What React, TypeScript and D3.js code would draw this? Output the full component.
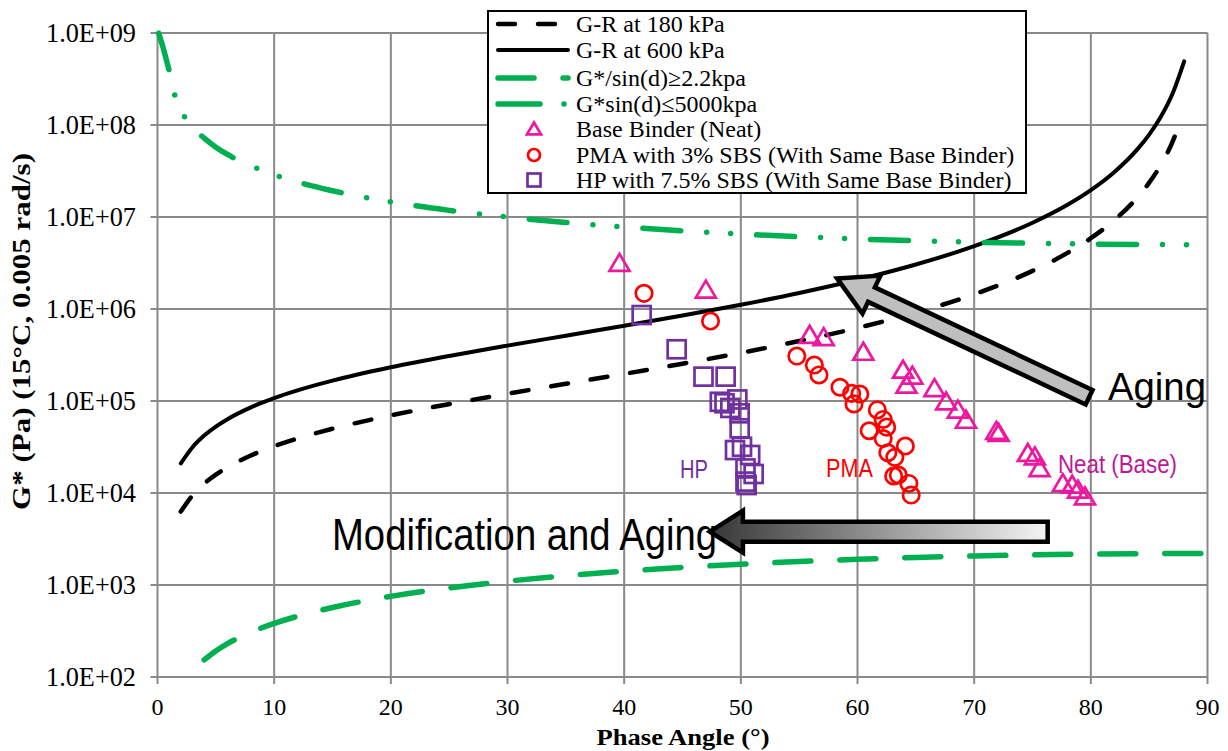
import React from 'react';
import * as d3 from 'd3';

const WIDTH = 1228;
const HEIGHT = 751;

// Axis ticks
const xTicks = [0, 10, 20, 30, 40, 50, 60, 70, 80, 90];
const yTicks = [1e2, 1e3, 1e4, 1e5, 1e6, 1e7, 1e8, 1e9];
const yTickLabels = ['1.0E+02', '1.0E+03', '1.0E+04', '1.0E+05', '1.0E+06', '1.0E+07', '1.0E+08', '1.0E+09'];

// Glover-Rowe limit at 600 kPa (phase angle in degrees, G* in Pa)
const gr600Angle = [2, 3, 4, 5, 6, 8, 10, 12, 15, 20, 25, 30, 35, 40, 45, 50, 55, 60, 65, 70, 75, 78, 80, 82, 84, 85, 86, 87, 88];
const gr600G = [20970, 31490, 42060, 52690, 63410, 85150, 107400, 130400, 166400, 232400, 308700, 400000, 512900, 657200, 848500, 1112000, 1494000, 2078000, 3045000, 4820000, 8652000, 13580000, 19600000, 30680000, 54610000, 78690000, 123000000, 218800000, 492300000];

// Glover-Rowe limit at 180 kPa
const gr180Angle = [2, 3, 4, 5, 6, 8, 10, 12, 15, 20, 25, 30, 35, 40, 45, 50, 55, 60, 65, 70, 75, 78, 80, 82, 84, 85, 86, 87, 87.7];
const gr180G = [6290, 9450, 12620, 15810, 19020, 25550, 32230, 39120, 49930, 69720, 92610, 120000, 153900, 197200, 254600, 333700, 448200, 623500, 913400, 1446000, 2596000, 4073000, 5879000, 9203000, 16380000, 23610000, 36900000, 65630000, 112000000];

// Superpave limits
const sinMinAngle = [4, 5, 6, 8, 10, 12, 15, 20, 25, 30, 35, 40, 45, 50, 55, 60, 65, 70, 75, 80, 85, 90];
const sinMinG = [153.5, 191.7, 230, 306.2, 382, 457.4, 569.4, 752.4, 929.8, 1100, 1262, 1414, 1556, 1685, 1802, 1905, 1994, 2067, 2125, 2167, 2192, 2200];

const sinMaxAngle = [0.1, 0.5, 1, 1.5, 2, 2.5, 3, 4, 5, 6, 8, 10, 12, 15, 20, 25, 30, 35, 40, 45, 50, 55, 60, 65, 70, 75, 80, 85, 90];
const sinMaxG = [1.0e9, 6.8e8, 3.9e8, 2.07e8, 1.45e8, 1.13e8, 9.4e7, 7.2e7, 5.74e7, 4.78e7, 3.59e7, 2.88e7, 2.40e7, 1.93e7, 1.46e7, 1.18e7, 1.0e7, 8.72e6, 7.78e6, 7.07e6, 6.53e6, 6.10e6, 5.77e6, 5.52e6, 5.32e6, 5.18e6, 5.08e6, 5.02e6, 5.0e6];

// Measured binders
const neatAngle = [39.6, 47.0, 55.9, 57.1, 60.5, 63.9, 64.7, 64.2, 66.6, 67.6, 68.6, 69.3, 72.1, 71.9, 74.6, 75.2, 75.6, 77.6, 78.4, 78.9, 79.5];
const neatG = [3.14e6, 1.61e6, 5.2e5, 4.9e5, 3.4e5, 2.17e5, 1.87e5, 1.49e5, 1.37e5, 9.8e4, 8.0e4, 6.2e4, 4.45e4, 4.7e4, 2.7e4, 2.48e4, 1.85e4, 1.27e4, 1.22e4, 1.08e4, 9.1e3];

const pmaAngle = [41.7, 47.4, 54.8, 56.3, 56.7, 58.5, 59.5, 60.2, 59.7, 61.7, 62.2, 62.5, 61.0, 62.2, 64.1, 62.6, 63.2, 63.1, 63.5, 64.4, 64.6];
const pmaG = [1.48e6, 7.4e5, 3.08e5, 2.46e5, 1.92e5, 1.41e5, 1.21e5, 1.19e5, 9.3e4, 8.0e4, 6.3e4, 5.2e4, 4.75e4, 3.9e4, 3.24e4, 2.74e4, 2.44e4, 1.53e4, 1.57e4, 1.27e4, 9.5e3];

const hpAngle = [41.5, 44.5, 46.8, 48.7, 48.2, 48.6, 49.7, 49.1, 49.9, 49.9, 49.5, 50.1, 50.8, 50.4, 51.1, 50.4, 50.5];
const hpG = [8.6e5, 3.65e5, 1.84e5, 1.84e5, 9.8e4, 9.45e4, 1.04e5, 8.4e4, 7.35e4, 5.05e4, 2.93e4, 3.18e4, 2.59e4, 1.85e4, 1.61e4, 1.33e4, 1.22e4];

const legendLabels = [
  'G-R at 180 kPa',
  'G-R at 600 kPa',
  'G*/sin(d)\u22652.2kpa',
  'G*sin(d)\u22645000kpa',
  'Base Binder (Neat)',
  'PMA with 3% SBS (With Same Base Binder)',
  'HP with 7.5% SBS (With Same Base Binder)',
];

const GRID = '#898989';
const GREEN = '#00b050';
const NEAT = '#ee17a0';
const PMA = '#ff0000';
const HP = '#7030a0';
const SERIF = '"Liberation Serif", "Times New Roman", serif';
const SANS = '"Liberation Sans", Arial, sans-serif';

const DASH_GR180 = '17 23';
const DASH_SINMIN = '36 29';
const DASH_SINMAX = '38 26 0 24 0 26';

function trianglePath(cx: number, cy: number, r: number) {
  const h = r * 1.7;
  return `M${cx},${cy - h * 0.55} L${cx + r},${cy + h * 0.45} L${cx - r},${cy + h * 0.45} Z`;
}

export default function App() {
  const x = d3.scaleLinear().domain([0, 90]).range([157.5, 1207.5]);
  const y = d3.scaleLog().domain([1e2, 1e9]).range([677, 33]);

  const curve = (xs: number[], ys: number[]) =>
    d3
      .line<number>()
      .x((d) => x(d))
      .y((_, i) => y(ys[i]))
      .curve(d3.curveMonotoneX)(xs) || '';

  const [x0, x1] = x.range();
  const [yb, yt] = y.range();

  // Aging arrow (tail -> tip), in data coordinates
  const agingTail: [number, number] = [79.85, 1.1e5];
  const agingTip: [number, number] = [58.25, 2.15e6];
  const tailP = [x(agingTail[0]), y(agingTail[1])];
  const tipP = [x(agingTip[0]), y(agingTip[1])];
  const dx = tipP[0] - tailP[0];
  const dy = tipP[1] - tailP[1];
  const len = Math.hypot(dx, dy);
  const ux = dx / len;
  const uy = dy / len;
  const nx = -uy;
  const ny = ux;
  const headLen = 38;
  const headW = 21;
  const shaftW = 8;
  const hb = [tipP[0] - ux * headLen, tipP[1] - uy * headLen];
  const agingPts = [
    tipP,
    [hb[0] + nx * headW, hb[1] + ny * headW],
    [hb[0] + nx * shaftW, hb[1] + ny * shaftW],
    [tailP[0] + nx * shaftW, tailP[1] + ny * shaftW],
    [tailP[0] - nx * shaftW, tailP[1] - ny * shaftW],
    [hb[0] - nx * shaftW, hb[1] - ny * shaftW],
    [hb[0] - nx * headW, hb[1] - ny * headW],
  ];
  const agingPath = 'M' + agingPts.map((p) => `${p[0]},${p[1]}`).join('L') + 'Z';

  // Modification-and-aging arrow (horizontal, pointing left)
  const modTipX = x(47.35);
  const modTailX = x(76.3);
  const modY = y(3.8e3);
  const modHead = 33;
  const modPath = [
    `M${modTipX},${modY}`,
    `L${modTipX + modHead},${modY - 21}`,
    `L${modTipX + modHead},${modY - 10}`,
    `L${modTailX},${modY - 10}`,
    `L${modTailX},${modY + 10}`,
    `L${modTipX + modHead},${modY + 10}`,
    `L${modTipX + modHead},${modY + 21}`,
    'Z',
  ].join('');

  const legendRowY = [24, 50, 78, 104, 129, 155, 180];
  const lgX0 = 498;
  const lgX1 = 568;
  const lgMark = 534;
  const lgText = 576;

  return (
    <svg
      width={WIDTH}
      height={HEIGHT}
      style={{ position: 'absolute', left: 0, top: 0, background: '#fff' }}
    >
      <defs>
        <linearGradient id="modFill" x1="0" x2="1" y1="0" y2="0">
          <stop offset="0" stopColor="#363636" />
          <stop offset="1" stopColor="#f4f4f4" />
        </linearGradient>
      </defs>
      <rect width={WIDTH} height={HEIGHT} fill="#fff" />

      {/* grid */}
      <g stroke={GRID} strokeWidth={2}>
        {xTicks.map((t) => (
          <line key={'gx' + t} x1={x(t)} x2={x(t)} y1={yt} y2={yb + 7} />
        ))}
        {yTicks.map((t) => (
          <line key={'gy' + t} x1={x0 - 7} x2={x1} y1={y(t)} y2={y(t)} />
        ))}
      </g>

      {/* tick labels */}
      <g fontFamily={SERIF} fill="#000">
        {yTicks.map((t, i) => (
          <text key={'ty' + t} x={136} y={y(t) + 9} fontSize={27} textAnchor="end" textLength={90} lengthAdjust="spacingAndGlyphs">
            {yTickLabels[i]}
          </text>
        ))}
        {xTicks.map((t) => (
          <text key={'tx' + t} x={x(t)} y={715} fontSize={24} textAnchor="middle">
            {t}
          </text>
        ))}
      </g>

      {/* axis titles */}
      <text
        x={683}
        y={745}
        textAnchor="middle"
        fontFamily={SERIF}
        fontWeight="bold"
        fontSize={24}
        textLength={173}
        lengthAdjust="spacingAndGlyphs"
      >
        Phase Angle (°)
      </text>
      <text
        transform="translate(30,331.5) rotate(-90)"
        textAnchor="middle"
        fontFamily={SERIF}
        fontWeight="bold"
        fontSize={25}
        textLength={357}
        lengthAdjust="spacingAndGlyphs"
      >
        G* (Pa) (15°C, 0.005 rad/s)
      </text>

      {/* limit curves */}
      <path d={curve(gr180Angle, gr180G)} fill="none" stroke="#000" strokeWidth={4.5} strokeDasharray={DASH_GR180} strokeLinecap="round" />
      <path d={curve(gr600Angle, gr600G)} fill="none" stroke="#000" strokeWidth={4} strokeLinecap="round" />
      <path d={curve(sinMinAngle, sinMinG)} fill="none" stroke={GREEN} strokeWidth={5.5} strokeDasharray={DASH_SINMIN} strokeLinecap="round" />
      <path d={curve(sinMaxAngle, sinMaxG)} fill="none" stroke={GREEN} strokeWidth={5.5} strokeDasharray={DASH_SINMAX} strokeLinecap="round" />

      {/* measured binders */}
      <g fill="none" stroke={NEAT} strokeWidth={2.7}>
        {neatAngle.map((a, i) => (
          <path key={'n' + i} d={trianglePath(x(a), y(neatG[i]), 10)} strokeLinejoin="miter" />
        ))}
      </g>
      <g fill="none" stroke={PMA} strokeWidth={2.7}>
        {pmaAngle.map((a, i) => (
          <circle key={'p' + i} cx={x(a)} cy={y(pmaG[i])} r={8.2} />
        ))}
      </g>
      <g fill="none" stroke={HP} strokeWidth={2.7}>
        {hpAngle.map((a, i) => (
          <rect key={'h' + i} x={x(a) - 9} y={y(hpG[i]) - 9} width={18} height={18} />
        ))}
      </g>

      {/* group labels */}
      <g fontFamily={SANS} fontSize={25}>
        <text x={680} y={478} fill={HP} textLength={28} lengthAdjust="spacingAndGlyphs">HP</text>
        <text x={826} y={477} fill={PMA} textLength={47} lengthAdjust="spacingAndGlyphs">PMA</text>
        <text x={1058} y={473} fill="#c0179a" textLength={119} lengthAdjust="spacingAndGlyphs">Neat (Base)</text>
      </g>

      {/* annotation arrows */}
      <path d={agingPath} fill="#bfbfbf" stroke="#000" strokeWidth={4.5} strokeLinejoin="miter" />
      <text x={1108} y={400} fontFamily={SANS} fontSize={38} textLength={98} lengthAdjust="spacingAndGlyphs">
        Aging
      </text>
      <text x={332} y={550} fontFamily={SANS} fontSize={44} textLength={385} lengthAdjust="spacingAndGlyphs">
        Modification and Aging
      </text>
      <path d={modPath} fill="url(#modFill)" stroke="#000" strokeWidth={4.5} strokeLinejoin="miter" />

      {/* legend */}
      <rect x={488} y={11} width={538} height={182} fill="#fff" stroke="#000" strokeWidth={2} />
      <line x1={lgX0} x2={lgX1} y1={legendRowY[0]} y2={legendRowY[0]} stroke="#000" strokeWidth={4.5} strokeDasharray={DASH_GR180} strokeLinecap="round" />
      <line x1={lgX0} x2={lgX1} y1={legendRowY[1]} y2={legendRowY[1]} stroke="#000" strokeWidth={4} strokeLinecap="round" />
      <line x1={lgX0} x2={lgX1} y1={legendRowY[2]} y2={legendRowY[2]} stroke={GREEN} strokeWidth={5.5} strokeDasharray={DASH_SINMIN} strokeLinecap="round" />
      <line x1={lgX0} x2={lgX1} y1={legendRowY[3]} y2={legendRowY[3]} stroke={GREEN} strokeWidth={5.5} strokeDasharray="42 24 0 100" strokeLinecap="round" />
      <path d={trianglePath(lgMark, legendRowY[4], 7)} fill="none" stroke={NEAT} strokeWidth={2.7} />
      <circle cx={lgMark} cy={legendRowY[5]} r={6} fill="none" stroke={PMA} strokeWidth={2.7} />
      <rect x={lgMark - 6.5} y={legendRowY[6] - 6.5} width={13} height={13} fill="none" stroke={HP} strokeWidth={2.7} />
      <g fontFamily={SERIF} fontSize={24} fill="#000">
        {legendLabels.map((l, i) => (
          <text key={'lg' + i} x={lgText} y={legendRowY[i] + 8}>
            {l}
          </text>
        ))}
      </g>
    </svg>
  );
}
